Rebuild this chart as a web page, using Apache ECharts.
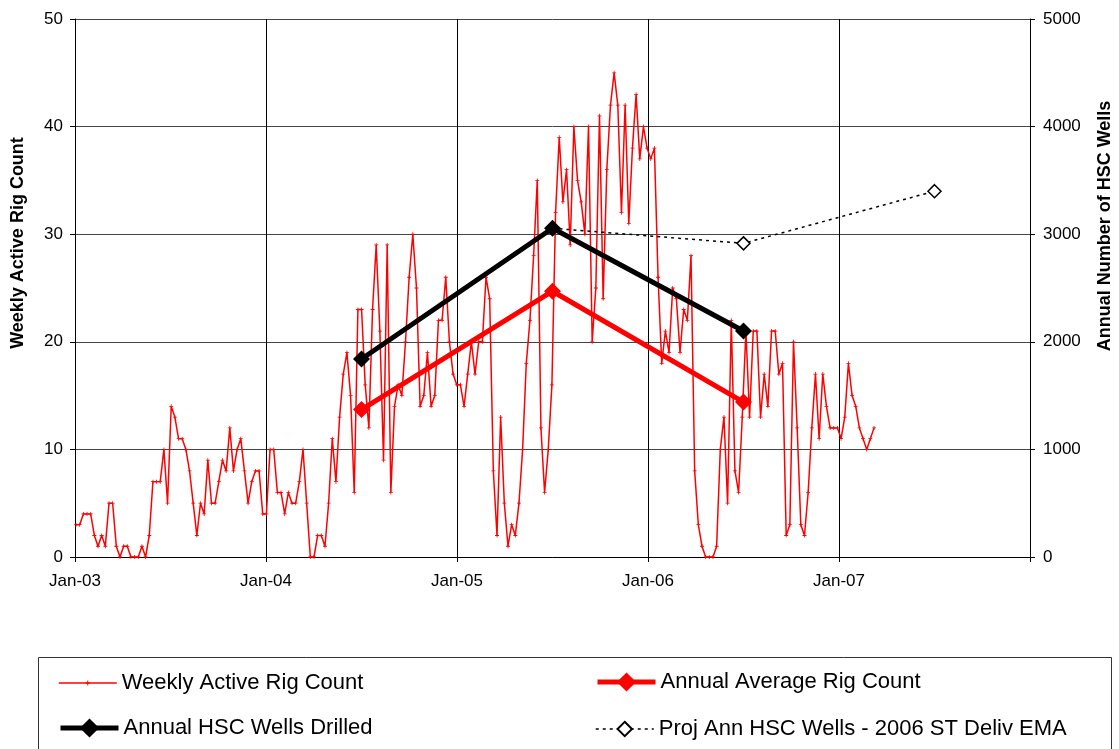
<!DOCTYPE html>
<html>
<head>
<meta charset="utf-8">
<script src="https://cdn.jsdelivr.net/npm/echarts@6/dist/echarts.min.js"></script>
<style>
  html, body { margin: 0; padding: 0; background: #fff; }
  #chart { width: 1119px; height: 749px; }
</style>
</head>
<body>
<div id="chart"></div>
<script>
// weekly active rig count, one value per week starting Jan 3 2003
const weeklyRigs = [
  3, 3, 4, 4, 4, 2, 1, 2, 1, 5, 5, 1, 0, 1, 1, 0, 0, 0, 1, 0,
  2, 7, 7, 7, 10, 5, 14, 13, 11, 11, 10, 8, 5, 2, 5, 4, 9, 5, 5, 7,
  9, 8, 12, 8, 10, 11, 8, 5, 7, 8, 8, 4, 4, 10, 10, 6,
  6, 4, 6, 5, 5, 7, 10, 5, 0, 0, 2, 2, 1, 5, 11, 7, 13, 17, 19, 15,
  6, 23, 23, 16, 12, 23, 29, 21, 9, 29, 6, 14, 16, 15, 20, 26, 30, 25, 14, 15,
  19, 14, 15, 22, 22, 26, 20, 17, 16, 16,
  14, 17, 20, 17, 20, 20, 26, 24, 8, 2, 13, 5, 1, 3, 2, 5, 10, 18, 22, 28,
  35, 12, 6, 10, 16, 32, 39, 33, 36, 29, 40, 35, 33, 30, 40, 20, 25, 41, 24, 36,
  42, 45, 42, 32, 42, 31, 38, 43, 37, 40, 38, 37, 38, 26,
  18, 21, 19, 25, 24, 19, 23, 22, 28, 8, 3, 1, 0, 0, 0, 1, 10, 13, 5, 22,
  8, 6, 13, 21, 13, 21, 21, 13, 17, 14, 21, 21, 17, 18, 2, 3, 20, 12, 3, 2,
  6, 12, 17, 11, 17, 14, 12, 12, 12, 11, 13, 18, 15, 14, 12, 11, 10, 11, 12
]
const firstWeek = 2003 + 2 / 365.25

// annual values plotted at mid-year
const annualYears = [2004.5, 2005.5, 2006.5]
const annualAvgRigs = [13.7, 24.7, 14.4]
const hscWellsDrilled = [1840, 3055, 2100]
const projYears = [2005.5, 2006.5, 2007.5]
const projWells = [3055, 2915, 3400]

const yearLabels = ['Jan-03', 'Jan-04', 'Jan-05', 'Jan-06', 'Jan-07']

const font = '"Liberation Sans", Arial, sans-serif'

const chart = echarts.init(document.getElementById('chart'))

// one legend per entry so each icon can get its own size
function legendItem(name, left, centerY, h, lineStyle) {
  return {
    left: left,
    top: centerY - Math.max(h, 22) / 2,
    padding: 0,
    itemWidth: 58,
    itemHeight: h,
    textStyle: { fontFamily: font, fontSize: 22, color: '#000', lineHeight: 22 },
    data: [{ name: name, lineStyle: lineStyle }]
  }
}

chart.setOption({
  animation: false,
  backgroundColor: '#fff',
  grid: { left: 75, right: 89, top: 19, bottom: 192 },
  xAxis: {
    type: 'value',
    min: 2003,
    max: 2008,
    interval: 1,
    axisLine: { lineStyle: { color: '#000', width: 1 } },
    axisTick: { show: true, length: 5, lineStyle: { color: '#000' } },
    axisLabel: {
      margin: 16,
      fontFamily: font,
      fontSize: 17,
      color: '#000',
      formatter: v => yearLabels[Math.round(v - 2003)] || ''
    },
    splitLine: { show: true, lineStyle: { color: '#000', width: 1 } }
  },
  yAxis: [
    {
      type: 'value',
      min: 0,
      max: 50,
      interval: 10,
      axisLine: { show: true, lineStyle: { color: '#000' } },
      axisTick: { show: true, length: 5, lineStyle: { color: '#000' } },
      axisLabel: { margin: 12, fontFamily: font, fontSize: 17, color: '#000' },
      splitLine: { show: true, lineStyle: { color: '#444', width: 1 } }
    },
    {
      type: 'value',
      min: 0,
      max: 5000,
      interval: 1000,
      position: 'right',
      axisLine: { show: true, lineStyle: { color: '#000' } },
      axisTick: { show: true, length: 5, lineStyle: { color: '#000' } },
      axisLabel: { margin: 13, fontFamily: font, fontSize: 17, color: '#000', formatter: v => String(v) },
      splitLine: { show: false }
    }
  ],
  legend: [
    legendItem('Weekly Active Rig Count', 58, 683, 6, { width: 1.5 }),
    legendItem('Annual HSC Wells Drilled', 58, 729, 24, { width: 5 }),
    legendItem('Annual Average Rig Count', 595, 683, 24, { width: 5 }),
    legendItem('Proj Ann HSC Wells - 2006 ST Deliv EMA', 595, 729, 18, { width: 1.5 })
  ],
  graphic: [
    {
      type: 'rect',
      shape: { x: 38.5, y: 657.5, width: 1073, height: 100 },
      style: { fill: 'none', stroke: '#333', lineWidth: 1 }
    },
    {
      type: 'text',
      x: 18,
      y: 243,
      rotation: Math.PI / 2,
      style: {
        text: 'Weekly Active Rig Count',
        align: 'center',
        verticalAlign: 'middle',
        font: 'bold 18px ' + font,
        fill: '#000'
      }
    },
    {
      type: 'text',
      x: 1105,
      y: 226,
      rotation: Math.PI / 2,
      style: {
        text: 'Annual Number of HSC Wells',
        align: 'center',
        verticalAlign: 'middle',
        font: 'bold 18px ' + font,
        fill: '#000'
      }
    }
  ],
  series: [
    {
      name: 'Weekly Active Rig Count',
      type: 'line',
      yAxisIndex: 0,
      data: weeklyRigs.map((v, i) => [firstWeek + (7 * i) / 365.25, v]),
      symbol: 'path://M2,0H3V2H5V3H3V5H2V3H0V2H2Z',
      symbolSize: 4,
      showAllSymbol: true,
      lineStyle: { color: '#ff0000', width: 1.5 },
      itemStyle: { color: '#ff0000' },
      z: 2
    },
    {
      name: 'Annual Average Rig Count',
      type: 'line',
      yAxisIndex: 0,
      data: annualYears.map((x, i) => [x, annualAvgRigs[i]]),
      symbol: 'diamond',
      symbolSize: 17,
      lineStyle: { color: '#ff0000', width: 5 },
      itemStyle: { color: '#ff0000' },
      z: 3
    },
    {
      name: 'Proj Ann HSC Wells - 2006 ST Deliv EMA',
      type: 'line',
      yAxisIndex: 1,
      data: projYears.map((x, i) => i === 0 ? { value: [x, projWells[i]], symbol: 'none' } : [x, projWells[i]]),
      symbol: 'diamond',
      symbolSize: 13,
      lineStyle: { color: '#000', width: 1.5, type: [3, 4] },
      itemStyle: { color: '#fff', borderColor: '#000', borderWidth: 1.5 },
      z: 3
    },
    {
      name: 'Annual HSC Wells Drilled',
      type: 'line',
      yAxisIndex: 1,
      data: annualYears.map((x, i) => [x, hscWellsDrilled[i]]),
      symbol: 'diamond',
      symbolSize: 17,
      lineStyle: { color: '#000', width: 5 },
      itemStyle: { color: '#000' },
      z: 4
    }
  ]
})
</script>
</body>
</html>
